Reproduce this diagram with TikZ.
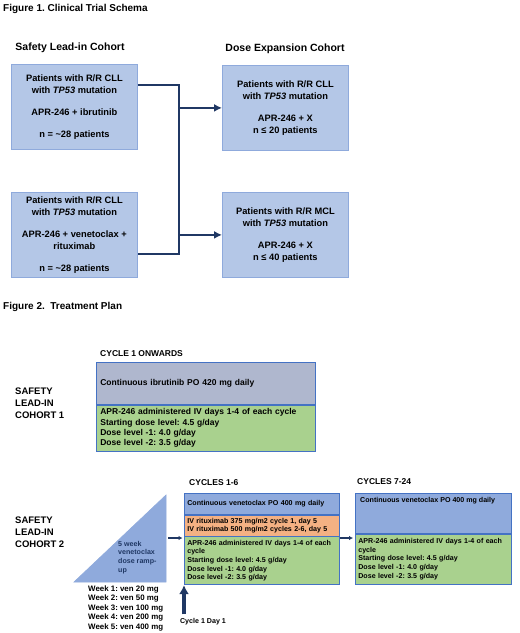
\documentclass[tikz,border=0pt]{standalone}
\usepackage{fontspec}
\setmainfont{Liberation Sans}
\usepackage{xcolor}
\usetikzlibrary{arrows.meta}
\frenchspacing

\definecolor{boxblue}{HTML}{B4C7E7}
\definecolor{boxline}{HTML}{8FAADC}
\definecolor{navy}{HTML}{203864}
\definecolor{greyblue}{HTML}{AFB7CE}
\definecolor{venblue}{HTML}{8FAADC}
\definecolor{aprgreen}{HTML}{A9D18E}
\definecolor{rituxorange}{HTML}{F4B183}
\definecolor{planline}{HTML}{4472C4}

\tikzset{
	title/.style={anchor=west, inner sep=0pt, font=\fontsize{10}{12}\selectfont\bfseries},
	head/.style={inner sep=0pt, font=\fontsize{10.5}{12}\selectfont\bfseries},
	cyclehead/.style={anchor=west, inner sep=0pt, font=\fontsize{8.5}{10}\selectfont\bfseries},
	cohortlbl/.style={anchor=west, inner sep=0pt, align=left, font=\fontsize{9.5}{12}\selectfont\bfseries},
	cohortbox/.style={anchor=north west, draw=boxline, fill=boxblue, line width=0.8pt, minimum width=126pt, minimum height=85pt, inner sep=0pt, align=center, font=\fontsize{9.3}{12}\selectfont\bfseries},
	planbox/.style={anchor=north west, draw=planline, line width=0.7pt, inner xsep=4pt, inner ysep=0pt, align=left, font=\fontsize{8.5}{10.4}\selectfont\bfseries},
	smallplan/.style={planbox, inner xsep=3pt, font=\fontsize{7.1}{8.7}\selectfont\bfseries},
	smalltext/.style={anchor=west, inner sep=0pt, align=left, font=\fontsize{7.1}{8.7}\selectfont\bfseries},
	link/.style={draw=navy, line width=2.3pt, >={Latex[length=8pt,width=8pt]}},
	thinlink/.style={draw=navy, line width=1.1pt, >={Latex[length=4pt,width=4.5pt]}},
	daylink/.style={draw=navy, line width=3.2pt, >={Latex[length=9pt,width=10pt]}}
}

\begin{document}
\begin{tikzpicture}[x=1pt,y=-1pt]
	\useasboundingbox[fill=white] (0,0) rectangle (520,633);
	% Figure 1
	\node[title] (fig1) at (3,9) {Figure 1. Clinical Trial Schema};
	\node[head] (leadhead) at (70,48) {Safety Lead-in Cohort};
	\node[head] (exphead) at (285,49) {Dose Expansion Cohort};
	\node[cohortbox] (ibr) at (11,64) {Patients with R/R CLL\\ with \textit{TP53} mutation\\[10pt] APR-246 + ibrutinib\\[10pt] n = \textasciitilde28 patients};
	\node[cohortbox] (venr) at (11,192) {Patients with R/R CLL\\ with \textit{TP53} mutation\\[10pt] APR-246 + venetoclax +\\ rituximab\\[10pt] n = \textasciitilde28 patients};
	\node[cohortbox] (cllx) at (222,65) {Patients with R/R CLL\\ with \textit{TP53} mutation\\[10pt] APR-246 + X\\ n ≤ 20 patients};
	\node[cohortbox] (mclx) at (222,192) {Patients with R/R MCL\\ with \textit{TP53} mutation\\[10pt] APR-246 + X\\ n ≤ 40 patients};
	\coordinate (jtop) at (179,85);
	\coordinate (jbot) at (179,254);
	\draw[link] (ibr.east |- jtop) -- (jtop) -- (jbot) -- (venr.east |- jbot);
	\draw[link,->] (jtop |- cllx) -- (cllx.west);
	\draw[link,->] (jtop |- mclx) -- (mclx.west);
	% Figure 2
	\node[title] (fig2) at (3,307) {Figure 2.\ \ Treatment Plan};
	\node[cohortlbl] (coh1) at (15,403) {SAFETY\\ LEAD-IN\\ COHORT 1};
	\node[cyclehead] (onwards) at (100,354) {CYCLE 1 ONWARDS};
	\node[planbox, fill=greyblue, text width=211pt, minimum height=42pt] (ibru) at (96,362) {Continuous ibrutinib PO 420 mg daily};
	\node[planbox, fill=aprgreen, text width=211pt, minimum height=46pt] (apr0) at (ibru.south west) {APR-246 administered IV days 1-4 of each cycle\\ Starting dose level: 4.5 g/day\\ Dose level -1: 4.0 g/day\\ Dose level -2: 3.5 g/day};

	\node[cohortlbl] (coh2) at (15,532.5) {SAFETY\\ LEAD-IN\\ COHORT 2};
	\draw[fill=venblue, draw=boxline, line width=0.6pt] (74,582) -- (166,495) -- (166,582) -- cycle;
	\node[smalltext, text=navy] (ramp) at (118,557.5) {5 week\\ venetoclax\\ dose ramp-\\ up};
	\node[smalltext, font=\fontsize{7.9}{9.5}\selectfont\bfseries] (weeks) at (88,608) {Week 1: ven 20 mg\\ Week 2: ven 50 mg\\ Week 3: ven 100 mg\\ Week 4: ven 200 mg\\ Week 5: ven 400 mg};

	\node[cyclehead] (c16) at (189,483) {CYCLES 1-6};
	\node[smallplan, fill=venblue, text width=149pt, minimum height=21pt] (ven1) at (184,493) {Continuous venetoclax PO 400 mg daily};
	\node[smallplan, fill=rituxorange, text width=149pt, minimum height=21pt] (rit) at (ven1.south west) {IV rituximab 375 mg/m2 cycle 1, day 5\\ IV rituximab 500 mg/m2 cycles 2-6, day 5};
	\node[smallplan, fill=aprgreen, text width=149pt, minimum height=48pt] (apr1) at (rit.south west) {APR-246 administered IV days 1-4 of each\\ cycle\\ Starting dose level: 4.5 g/day\\ Dose level -1: 4.0 g/day\\ Dose level -2: 3.5 g/day};

	\node[cyclehead] (c724) at (357,482) {CYCLES 7-24};
	\node[smallplan, fill=venblue, text width=150pt, minimum height=40pt] (ven2) at (355,493) {};
	\node[smalltext] (ven2txt) at (360,501) {Continuous venetoclax PO 400 mg daily};
	\node[smallplan, fill=aprgreen, text width=150pt, minimum height=50pt] (apr2) at (ven2.south west) {APR-246 administered IV days 1-4 of each\\ cycle\\ Starting dose level: 4.5 g/day\\ Dose level -1: 4.0 g/day\\ Dose level -2: 3.5 g/day};

	\coordinate (rampout) at (168,538);
	\draw[thinlink,->,shorten >=1.5pt] (rampout) -- (rampout -| apr1.west);
	\draw[thinlink,->,shorten >=2pt] (rampout -| apr1.east) -- (rampout -| apr2.west);
	\node[smalltext, anchor=center] (day1) at (203,622) {Cycle 1 Day 1};
	\draw[daylink,->,shorten <=4pt] (day1.north -| apr1.south west) -- (apr1.south west);
\end{tikzpicture}
\end{document}
